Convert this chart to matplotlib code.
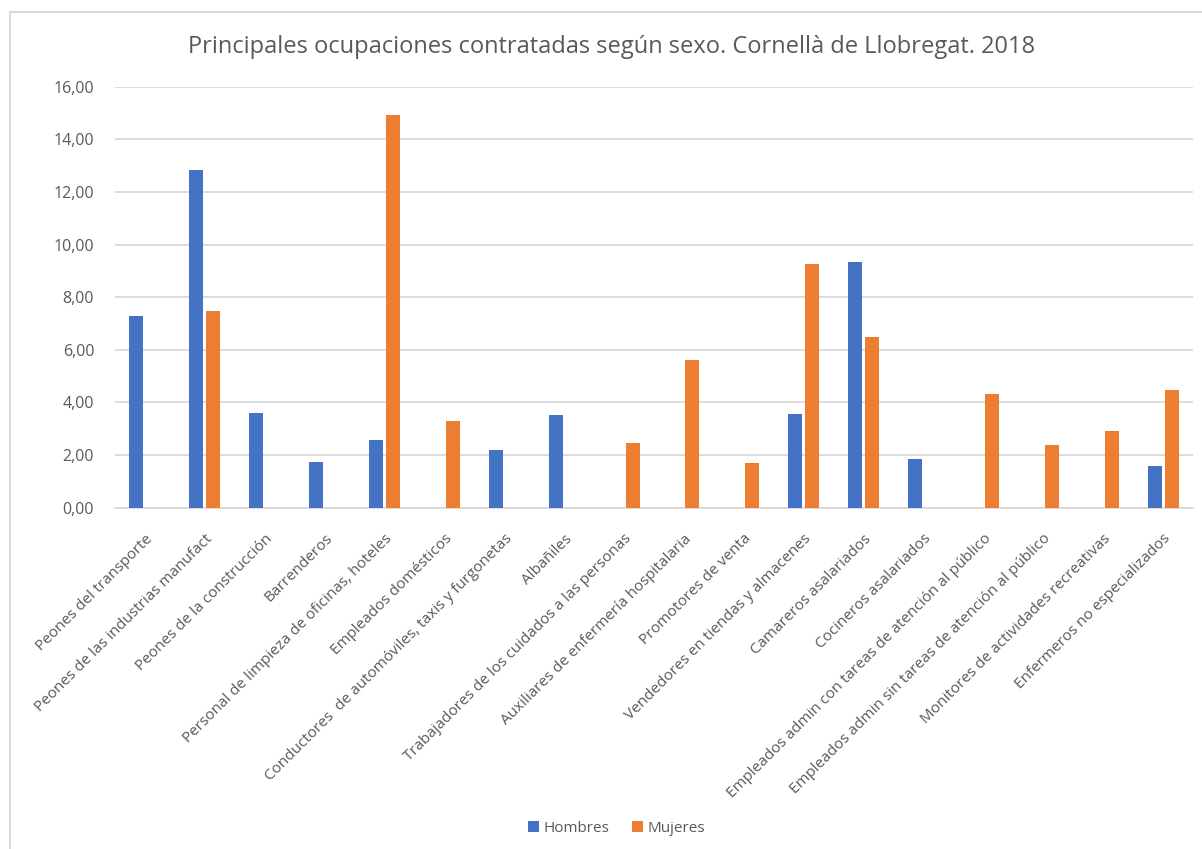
import matplotlib
matplotlib.use("Agg")
import matplotlib.pyplot as plt
import numpy as np
from matplotlib.patches import Rectangle

categorias = [
    "Peones del transporte",
    "Peones de las industrias manufact",
    "Peones de la construcción",
    "Barrenderos",
    "Personal de limpieza de oficinas, hoteles",
    "Empleados domésticos",
    "Conductores  de automóviles, taxis y furgonetas",
    "Albañiles",
    "Trabajadores de los cuidados a las personas",
    "Auxiliares de enfermería hospitalaria",
    "Promotores de venta",
    "Vendedores en tiendas y almacenes",
    "Camareros asalariados",
    "Cocineros asalariados",
    "Empleados admin con tareas de atención al público",
    "Empleados admin sin tareas de atención al público",
    "Monitores de actividades recreativas",
    "Enfermeros no especializados",
]
hombres = [7.30, 12.82, 3.59, 1.73, 2.58, 0, 2.19, 3.52, 0, 0, 0, 3.56, 9.33, 1.86, 0, 0, 0, 1.58]
mujeres = [0, 7.49, 0, 0, 14.93, 3.31, 0, 0, 2.45, 5.61, 1.69, 9.26, 6.48, 0, 4.32, 2.37, 2.92, 4.46]
yticks = [0, 2, 4, 6, 8, 10, 12, 14, 16]
titulo = "Principales ocupaciones contratadas según sexo. Cornellà de Llobregat. 2018"

plt.rcParams['font.family'] = ['Open Sans', 'DejaVu Sans']
gray = '#595959'
grid = '#D9D9D9'
blue = '#4472C4'
orange = '#ED7D31'

fig = plt.figure(figsize=(12.02, 8.49), dpi=100)
ax = fig.add_axes([0.0957, 0.402, 0.8968, 0.4958])

x = np.arange(len(categorias))
w = 0.233
off = 0.142
ax.bar(x - off, hombres, width=w, color=blue, label='Hombres', zorder=3)
ax.bar(x + off, mujeres, width=w, color=orange, label='Mujeres', zorder=3)

ax.set_xlim(-0.5, len(categorias) - 0.5)
ax.set_ylim(0, 16)
ax.set_yticks(yticks)
ax.set_yticklabels([f"{v:.2f}".replace('.', ',') for v in yticks], color=gray, fontsize=11.5)
ax.yaxis.grid(True, color=grid, linewidth=1.3, zorder=0)
ax.set_axisbelow(True)
for s in ['top', 'right', 'left']:
    ax.spines[s].set_visible(False)
ax.spines['bottom'].set_color(grid)
ax.spines['bottom'].set_linewidth(1.3)
ax.tick_params(axis='y', length=0, pad=15)
ax.set_xticks(x)
ax.set_xticklabels(categorias, rotation=45, ha='right', rotation_mode='anchor',
                   color=gray, fontsize=11)
ax.tick_params(axis='x', length=0, pad=17)

fig.text(0.509, 0.945, titulo, ha='center', va='center', fontsize=17, color=gray)

leg = fig.legend(loc='center', bbox_to_anchor=(0.513, 0.024), ncol=2, frameon=False,
                 fontsize=11, handlelength=0.7, handleheight=0.7, handletextpad=0.3,
                 columnspacing=1.5)
for t in leg.get_texts():
    t.set_color(gray)

# chart border (left/top visible, right/bottom cropped)
fig.add_artist(Rectangle((10 / 1202, -0.1), 1.2, 1 - 12 / 849 + 0.1, transform=fig.transFigure,
                         fill=False, edgecolor=grid, linewidth=1.5))

fig.savefig('out.png', dpi=100)
